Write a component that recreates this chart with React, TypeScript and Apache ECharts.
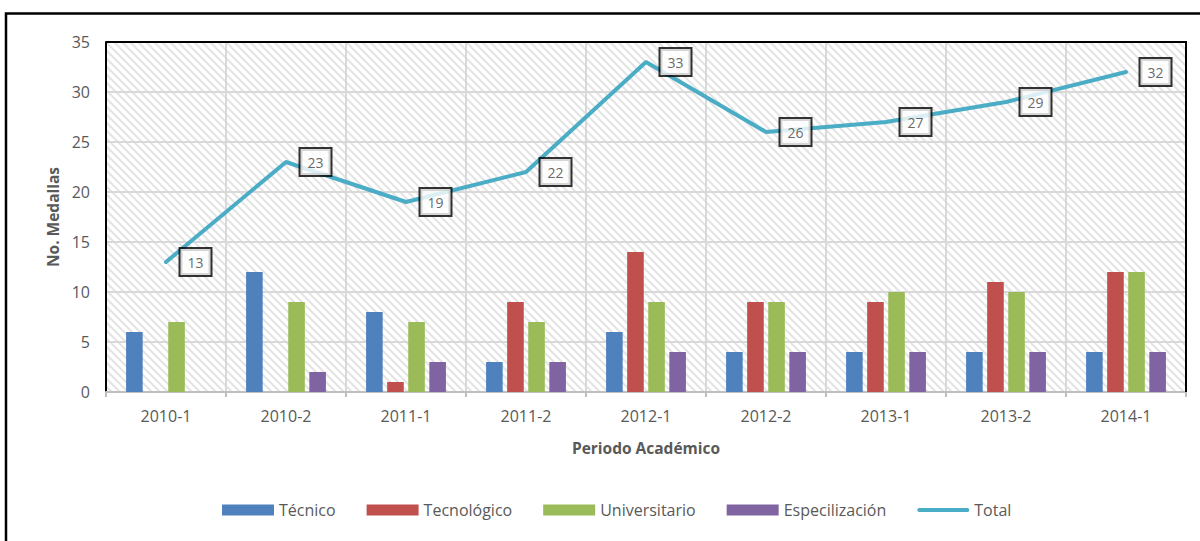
import React, { useEffect, useRef } from "react";
import * as echarts from "echarts";

const categories = ["2010-1", "2010-2", "2011-1", "2011-2", "2012-1", "2012-2", "2013-1", "2013-2", "2014-1"];
const tecnico = [6, 12, 8, 3, 6, 4, 4, 4, 4];
const tecnologico = [null, null, 1, 9, 14, 9, 9, 11, 12];
const universitario = [7, 9, 7, 7, 9, 9, 10, 10, 12];
const especializacion = [null, 2, 3, 3, 4, 4, 4, 4, 4];
const total = [13, 23, 19, 22, 33, 26, 27, 29, 32];
const seriesNames = ["Técnico", "Tecnológico", "Universitario", "Especilización", "Total"];
const yMin = 0;
const yMax = 35;
const yInterval = 5;

const FONT = "'Open Sans', 'Noto Sans', sans-serif";
const TEXT = "#595959";

function makeStripes(): HTMLCanvasElement {
  const c = document.createElement("canvas");
  c.width = 8;
  c.height = 8;
  const ctx = c.getContext("2d")!;
  ctx.fillStyle = "#ffffff";
  ctx.fillRect(0, 0, 8, 8);
  ctx.strokeStyle = "#e4e4e4";
  ctx.lineWidth = 2;
  ctx.beginPath();
  ctx.moveTo(-2, -2);
  ctx.lineTo(10, 10);
  ctx.moveTo(-2, 6);
  ctx.lineTo(2, 10);
  ctx.moveTo(6, -2);
  ctx.lineTo(10, 2);
  ctx.stroke();
  return c;
}

export default function App() {
  const ref = useRef<HTMLDivElement>(null);
  useEffect(() => {
    document.body.style.margin = "0";
    if (!ref.current) return;
    const chart = echarts.init(ref.current, null, { renderer: "svg" });
    const gl = 106, gt = 42, gw = 1080, gh = 350;
    const barCommon = { type: "bar", barWidth: 16.6, barGap: "27%" } as any;
    chart.setOption({
      animation: false,
      backgroundColor: "#ffffff",
      textStyle: { fontFamily: FONT },
      grid: {
        left: gl, top: gt, width: gw, height: gh,
        show: true, borderWidth: 0,
        backgroundColor: { image: makeStripes(), repeat: "repeat" },
      },
      legend: {
        left: 217, top: 497,
        itemWidth: 52, itemHeight: 11, itemGap: 31,
        textStyle: { color: TEXT, fontSize: 16, fontFamily: FONT },
        data: [
          { name: seriesNames[0], icon: "rect" },
          { name: seriesNames[1], icon: "rect" },
          { name: seriesNames[2], icon: "rect" },
          { name: seriesNames[3], icon: "rect" },
          { name: seriesNames[4], icon: "path://M2,0 L52,0 A2,2 0 0 1 52,4 L2,4 A2,2 0 0 1 2,0 Z" },
        ],
      },
      xAxis: {
        type: "category",
        data: categories,
        name: "Periodo Académico",
        nameLocation: "middle",
        nameGap: 48,
        nameTextStyle: { color: TEXT, fontSize: 15.5, fontWeight: "bold", fontFamily: FONT },
        axisLine: { show: true, lineStyle: { color: "#bfbfbf", width: 2 } },
        axisTick: { show: true, length: 5, lineStyle: { color: "#bfbfbf", width: 2 } },
        axisLabel: { color: TEXT, fontSize: 16, margin: 16, fontFamily: FONT },
        splitLine: { show: true, lineStyle: { color: "#d9d9d9", width: 2 } },
      },
      yAxis: {
        type: "value",
        min: yMin, max: yMax, interval: yInterval,
        name: "No. Medallas",
        nameLocation: "middle",
        nameGap: 44,
        nameTextStyle: { color: TEXT, fontSize: 15.5, fontWeight: "bold", fontFamily: FONT },
        axisLine: { show: true, lineStyle: { color: "#000000", width: 2 } },
        axisTick: { show: false },
        axisLabel: { color: TEXT, fontSize: 16, margin: 16, fontFamily: FONT },
        splitLine: { show: true, lineStyle: { color: "#d9d9d9", width: 2 } },
      },
      graphic: [
        {
          type: "rect", z: 100, silent: true,
          shape: { x: 6, y: 13.5, width: 1400, height: 800 },
          style: { fill: "none", stroke: "#000000", lineWidth: 2.5 },
        },
        {
          type: "polyline", z: 100, silent: true,
          shape: { points: [[gl, gt], [gl + gw, gt], [gl + gw, gt + gh]] },
          style: { fill: "none", stroke: "#000000", lineWidth: 2 },
        },
      ],
      series: [
        { ...barCommon, name: seriesNames[0], data: tecnico, itemStyle: { color: "#4F81BD" } },
        { ...barCommon, name: seriesNames[1], data: tecnologico, itemStyle: { color: "#C0504D" } },
        { ...barCommon, name: seriesNames[2], data: universitario, itemStyle: { color: "#9BBB59" } },
        { ...barCommon, name: seriesNames[3], data: especializacion, itemStyle: { color: "#8064A2" } },
        {
          type: "line",
          name: seriesNames[4],
          data: total,
          symbol: "none",
          z: 5,
          itemStyle: { color: "#4BACC6" },
          lineStyle: { color: "#4BACC6", width: 4, cap: "round" },
        },
        {
          type: "scatter",
          name: "TotalLabels",
          data: total,
          symbol: "circle",
          symbolSize: 1,
          z: 6,
          silent: true,
          itemStyle: { color: "rgba(0,0,0,0)" },
          label: {
            show: true,
            position: "right",
            distance: 14,
            formatter: "{c}",
            color: "#404040",
            fontSize: 14,
            fontFamily: FONT,
            textBorderWidth: 0,
            backgroundColor: "#ffffff",
            borderColor: "#000000",
            borderWidth: 2,
            padding: [6, 7, 6, 7],
          },
        },
      ],
    });
    return () => chart.dispose();
  }, []);
  return <div ref={ref} style={{ width: 1200, height: 541 }} />;
}
